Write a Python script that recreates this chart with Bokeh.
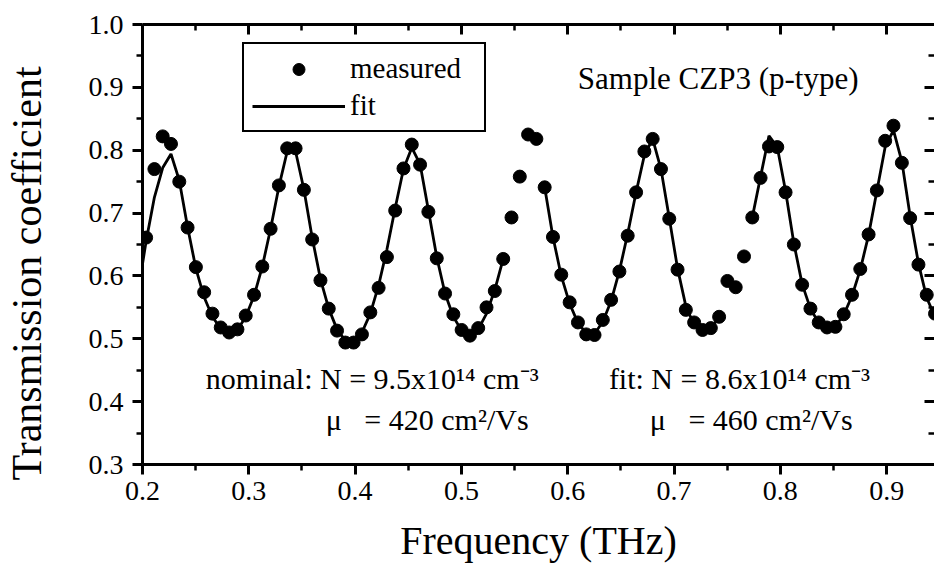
import math
from bokeh.plotting import figure
from bokeh.models import (Range1d, LinearAxis, FixedTicker, PrintfTickFormatter,
                          Label, Legend, LegendItem, CustomJSTickFormatter, Title)
from bokeh.embed import file_html
from bokeh.resources import INLINE

# ---- data ----
freq = [0.2034, 0.2112, 0.2190, 0.2268, 0.2346, 0.2424, 0.2502, 0.2580, 0.2658, 0.2736,
        0.2815, 0.2893, 0.2971, 0.3049, 0.3127, 0.3205, 0.3283, 0.3361, 0.3440, 0.3518,
        0.3596, 0.3674, 0.3752, 0.3830, 0.3908, 0.3986, 0.4064, 0.4143, 0.4221, 0.4299,
        0.4377, 0.4455, 0.4533, 0.4611, 0.4689, 0.4768, 0.4846, 0.4924, 0.5002, 0.5080,
        0.5158, 0.5236, 0.5314, 0.5393, 0.5471, 0.5549, 0.5627, 0.5705, 0.5783, 0.5861,
        0.5939, 0.6018, 0.6096, 0.6174, 0.6252, 0.6330, 0.6408, 0.6486, 0.6564, 0.6643,
        0.6721, 0.6799, 0.6877, 0.6955, 0.7033, 0.7111, 0.7189, 0.7268, 0.7346, 0.7424,
        0.7502, 0.7580, 0.7658, 0.7736, 0.7814, 0.7893, 0.7971, 0.8049, 0.8127, 0.8205,
        0.8283, 0.8361, 0.8439, 0.8518, 0.8596, 0.8674, 0.8752, 0.8830, 0.8908, 0.8986,
        0.9064, 0.9143, 0.9221, 0.9299, 0.9377, 0.9455]
measured = [0.661, 0.770, 0.822, 0.810, 0.750, 0.677, 0.614, 0.574, 0.540, 0.518,
            0.510, 0.515, 0.537, 0.570, 0.615, 0.675, 0.744, 0.803, 0.803, 0.737,
            0.658, 0.593, 0.548, 0.513, 0.494, 0.494, 0.507, 0.542, 0.581, 0.630,
            0.704, 0.771, 0.809, 0.777, 0.702, 0.628, 0.572, 0.539, 0.514, 0.505,
            0.517, 0.550, 0.576, 0.627, 0.693, 0.758, 0.825, 0.818, 0.741, 0.662,
            0.602, 0.558, 0.526, 0.507, 0.506, 0.530, 0.562, 0.607, 0.664, 0.733,
            0.798, 0.818, 0.770, 0.691, 0.610, 0.546, 0.526, 0.514, 0.517, 0.535,
            0.592, 0.582, 0.631, 0.693, 0.756, 0.806, 0.805, 0.733, 0.650, 0.586,
            0.548, 0.526, 0.518, 0.519, 0.539, 0.570, 0.611, 0.666, 0.736, 0.815,
            0.839, 0.780, 0.692, 0.618, 0.570, 0.540]

fit1_x = [0.2000] + freq[0:44]
fit1_y = [0.619, 0.655, 0.725, 0.772, 0.794, 0.752, 0.678, 0.612, 0.566, 0.535,
          0.516, 0.509, 0.514, 0.535, 0.568, 0.615, 0.675, 0.742, 0.798, 0.798,
          0.738, 0.661, 0.595, 0.548, 0.515, 0.497, 0.496, 0.510, 0.540, 0.585,
          0.642, 0.708, 0.770, 0.804, 0.778, 0.705, 0.630, 0.572, 0.535, 0.513,
          0.506, 0.515, 0.540, 0.578, 0.627]
fit2_x = freq[48:70]
fit2_y = [0.741, 0.662, 0.600, 0.556, 0.525, 0.509, 0.508, 0.527, 0.560, 0.608,
          0.667, 0.733, 0.792, 0.818, 0.770, 0.692, 0.612, 0.552, 0.522, 0.512,
          0.516, 0.535]
fit3_x = freq[73:96]
fit3_y = [0.693, 0.758, 0.823, 0.805, 0.735, 0.652, 0.587, 0.548, 0.525, 0.517,
          0.520, 0.538, 0.568, 0.610, 0.665, 0.735, 0.805, 0.832, 0.782, 0.695,
          0.620, 0.565, 0.535]

x_ticks = [0.2, 0.3, 0.4, 0.5, 0.6, 0.7, 0.8, 0.9]
x_minor = [0.25, 0.35, 0.45, 0.55, 0.65, 0.75, 0.85]
y_ticks = [0.3, 0.4, 0.5, 0.6, 0.7, 0.8, 0.9, 1.0]
y_minor = [0.35, 0.45, 0.55, 0.65, 0.75, 0.85, 0.95]

nan = float("nan")
fit_x = fit1_x + [nan] + fit2_x + [nan] + fit3_x
fit_y = fit1_y + [nan] + fit2_y + [nan] + fit3_y

FONT = "Liberation Serif"

p = figure(width=934, height=567, output_backend="svg", toolbar_location=None,
           x_range=Range1d(0.2, 0.945), y_range=Range1d(0.3, 1.0),
           min_border_left=142, min_border_right=0, min_border_top=24,
           min_border_bottom=103, background_fill_color="white",
           border_fill_color="white")
p.outline_line_color = None
p.grid.visible = False

def style_axis(ax, ticks, minor, outward=True, labels=True):
    ax.ticker = FixedTicker(ticks=ticks, minor_ticks=minor)
    ax.axis_line_width = 3
    ax.axis_line_color = "black"
    ax.major_tick_line_width = 3
    ax.minor_tick_line_width = 2.5
    ax.major_tick_line_color = "black"
    ax.minor_tick_line_color = "black"
    if outward:
        ax.major_tick_out = 10
        ax.major_tick_in = 0
        ax.minor_tick_out = 6
        ax.minor_tick_in = 0
    else:
        ax.major_tick_out = 0
        ax.major_tick_in = 10
        ax.minor_tick_out = 0
        ax.minor_tick_in = 6
    if labels:
        ax.formatter = PrintfTickFormatter(format="%.1f")
        ax.major_label_text_font = FONT
        ax.major_label_text_font_style = "normal"
        ax.major_label_text_font_size = "28px"
        ax.major_label_text_color = "black"
    else:
        ax.formatter = CustomJSTickFormatter(code="return ''")
        ax.major_label_text_font_size = "0px"
        ax.major_label_standoff = 0

style_axis(p.xaxis[0], x_ticks, x_minor)
p.xaxis[0].major_label_standoff = 7
style_axis(p.yaxis[0], y_ticks, y_minor)
p.yaxis[0].major_label_standoff = 9

top = LinearAxis()
style_axis(top, x_ticks, x_minor, outward=False, labels=False)
p.add_layout(top, "above")
right = LinearAxis()
style_axis(right, y_ticks, y_minor, outward=False, labels=False)
right.axis_line_color = None
p.add_layout(right, "right")

# axis titles
lspacer = Title(text="\u00a0", standoff=33, text_font_size="1px",
                text_font=FONT, text_font_style="normal")
p.add_layout(lspacer, "left")
ytitle = Title(text="Transmission coefficient", align="left", offset=-16,
               vertical_align="bottom", standoff=0,
               text_font=FONT, text_font_size="42px", text_font_style="normal",
               text_color="black")
p.add_layout(ytitle, "left")

bspacer = Title(text="\u00a0", standoff=12, text_font_size="1px",
                text_font=FONT, text_font_style="normal")
p.add_layout(bspacer, "below")
xtitle = Title(text="Frequency (THz)", align="center", vertical_align="top",
               standoff=0, text_font=FONT, text_font_size="40px",
               text_font_style="normal", text_color="black")
p.add_layout(xtitle, "below")

line = p.line(fit_x, fit_y, line_color="black", line_width=2.8)
dots = p.scatter(freq, measured, size=13, marker="circle",
                 fill_color="black", line_color="black")

legend = Legend(items=[LegendItem(label="measured", renderers=[dots]),
                       LegendItem(label="fit", renderers=[line])],
                location=(100, 332), orientation="vertical",
                label_text_font=FONT, label_text_font_size="29px",
                label_text_color="black",
                glyph_width=93, glyph_height=30, spacing=4, padding=8,
                margin=0, label_standoff=5, label_width=126,
                border_line_color="black", border_line_width=2.5,
                border_line_alpha=1.0,
                background_fill_color="white", background_fill_alpha=1.0)
p.add_layout(legend, "center")

def add_text(x, y, txt, size="30px", **kw):
    p.add_layout(Label(x=x, y=y, text=txt, text_font=FONT, text_font_size=size,
                       text_color="black", **kw))

add_text(0.6095, 0.887, "Sample CZP3 (p-type)", size="31px")
add_text(0.2596, 0.4108, "nominal: N = 9.5x10\u00b9\u2074 cm\u207b\u00b3")
add_text(0.3724, 0.3455, "\u03bc\u00a0\u00a0\u00a0= 420 cm\u00b2/Vs")
add_text(0.6387, 0.4108, "fit: N = 8.6x10\u00b9\u2074 cm\u207b\u00b3")
add_text(0.6772, 0.3455, "\u03bc\u00a0\u00a0\u00a0= 460 cm\u00b2/Vs")

open("out.html", "w").write(file_html(p, INLINE))
